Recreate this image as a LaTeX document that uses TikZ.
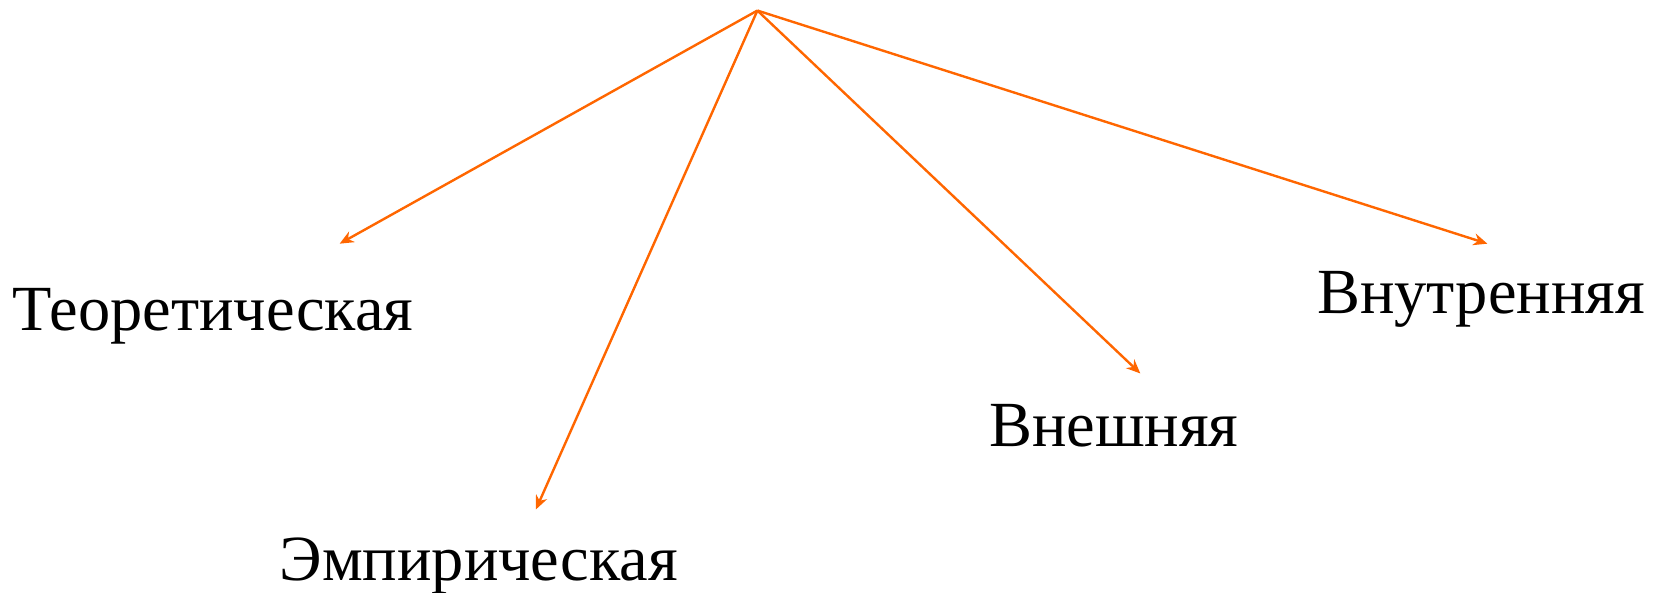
\documentclass[tikz,border=0pt]{standalone}
\usepackage{fontspec}
\setmainfont{Liberation Serif}
\usetikzlibrary{arrows.meta}
\definecolor{arroworange}{RGB}{255,102,0}
\tikzset {
  % kind labels
  kind/.style = {anchor=base, inner sep=0pt, font=\fontsize{32.2}{38}\selectfont},
  % branch arrows from the top point
  branch/.style = {arroworange, line width=1.2pt, -{Stealth[length=7pt, width=6pt]}},
}

\begin{document}
\begin{tikzpicture}[x=0.5275pt, y=-0.5275pt]
        \useasboundingbox (0,0) rectangle (1568,562);

        \coordinate (top) at (718,10);
        \coordinate (eT) at (322,231);
        \coordinate (eE) at (508,483);
        \coordinate (eV) at (1081,354);
        \coordinate (eI) at (1410,231);

        \node[kind] (teor) at (202,313) {Теоретическая};
        \node[kind] (emp) at (454,550) {Эмпирическая};
        \node[kind] (vnesh) at (1056,423) {Внешняя};
        \node[kind] (vnutr) at (1404,297) {Внутренняя};

        \draw [branch] (top) -- (eT);
        \draw [branch] (top) -- (eE);
        \draw [branch] (top) -- (eV);
        \draw [branch] (top) -- (eI);
\end{tikzpicture}
\end{document}
